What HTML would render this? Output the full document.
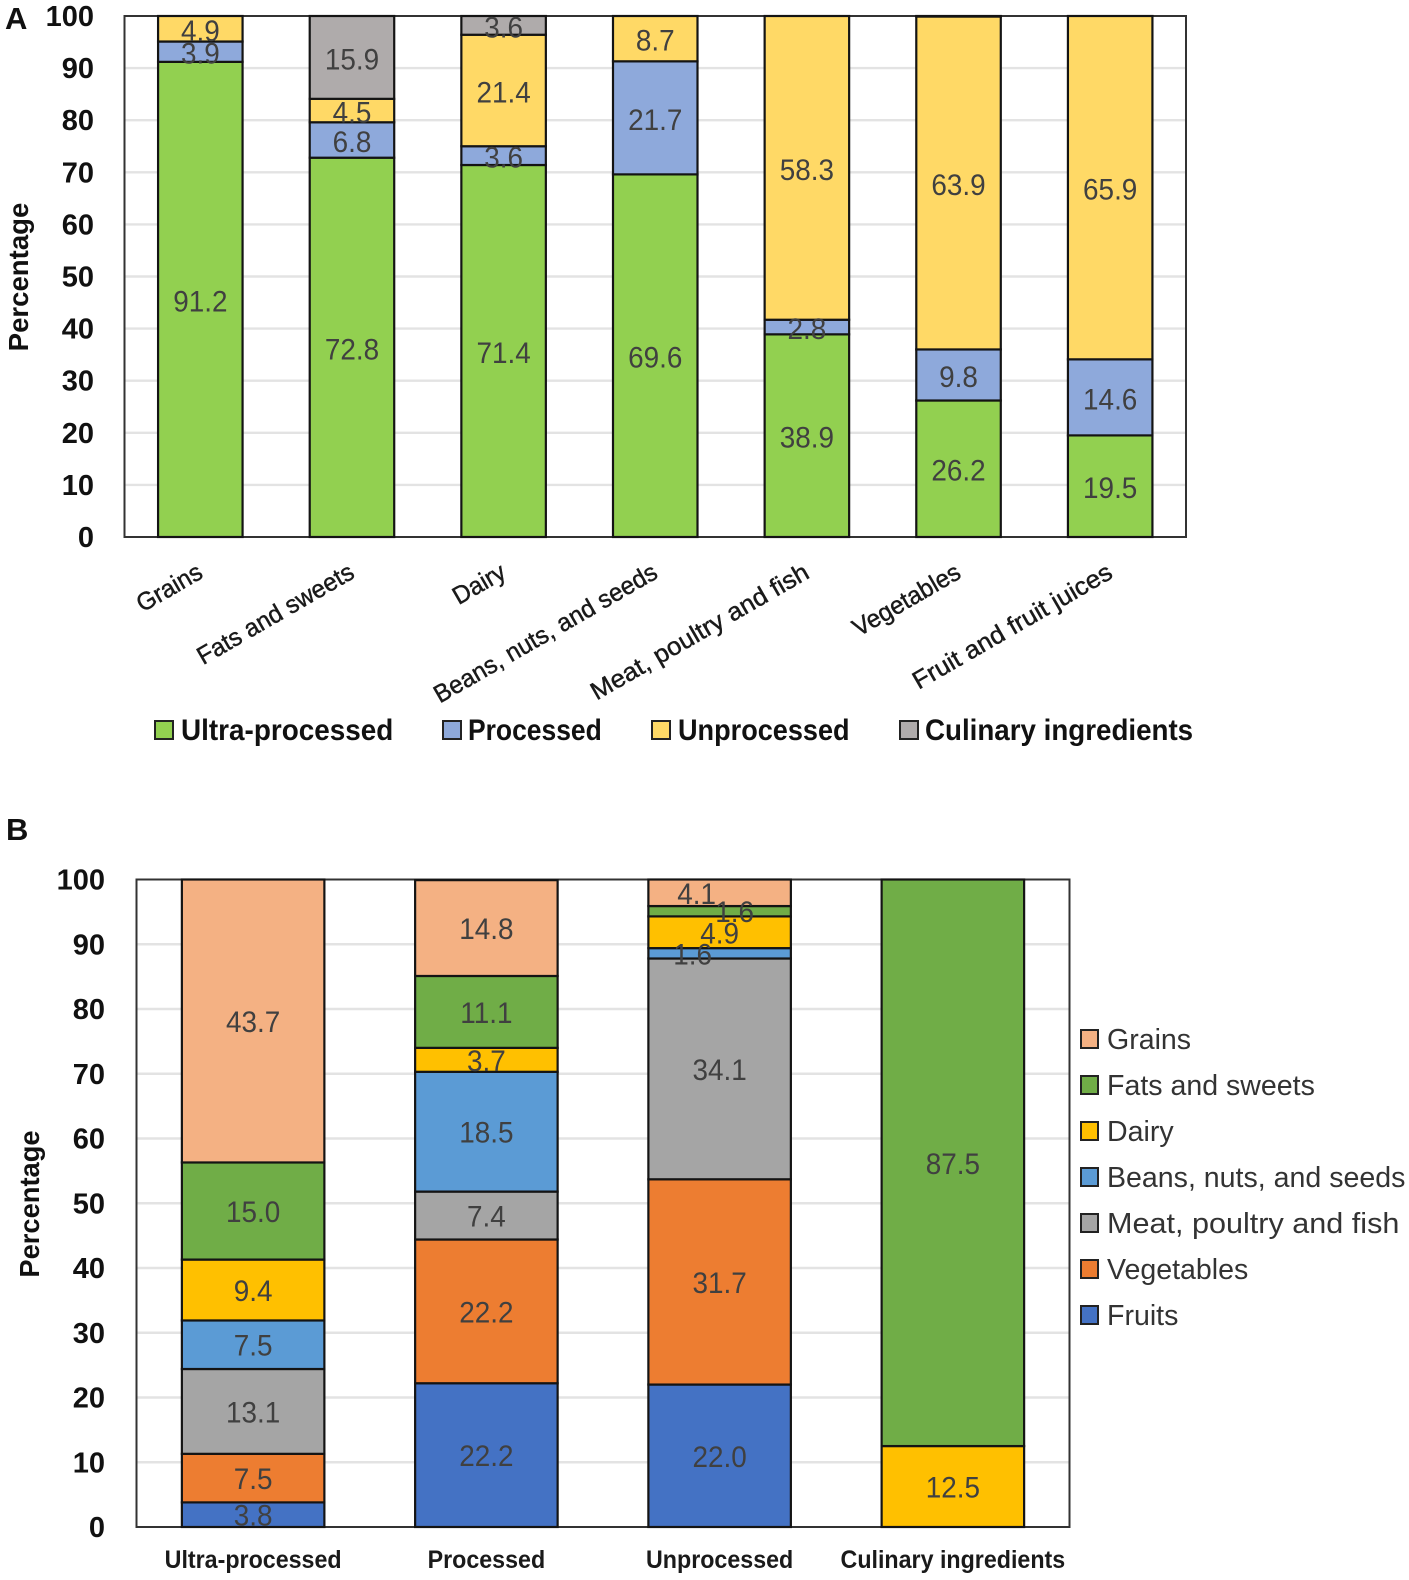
<!DOCTYPE html>
<html lang="en">
<head>
<meta charset="utf-8">
<title>Food groups and processing level</title>
<style>
html,body{margin:0;padding:0;background:#fff;}
svg{display:block;font-family:"Liberation Sans",sans-serif;}
.tick{font-size:29px;font-weight:700;fill:#111;text-anchor:end;}
.dl{font-size:30px;fill:#404040;text-anchor:middle;}
.title{font-size:28px;font-weight:700;fill:#111;}
.cat{font-size:25px;fill:#1a1a1a;stroke:#1a1a1a;stroke-width:.45px;}
.catb{font-size:25px;font-weight:700;fill:#1a1a1a;}
.lega{font-size:30px;font-weight:700;fill:#111;}
.legb{font-size:29px;fill:#333;}
.letter{font-size:31px;font-weight:700;fill:#111;}
</style>
</head>
<body>
<svg id="root" width="1409" height="1580" viewBox="0 0 1409 1580" xmlns="http://www.w3.org/2000/svg">
  <rect width="1409" height="1580" fill="#fff"/>
  <text class="letter" x="5" y="29">A</text>
  <text class="letter" x="6" y="840">B</text>

  <g id="chartA"></g>
  <g id="chartB"></g>

  <text class="title" transform="translate(28,277) rotate(-90) scale(.985,1)" text-anchor="middle">Percentage</text>
  <text class="title" transform="translate(39,1204) rotate(-90) scale(.975,1)" text-anchor="middle">Percentage</text>

  <g>
    <g>
      <rect x="155" y="721" width="18" height="18" fill="#92D050" stroke="#222" stroke-width="2"/>
      <text class="lega" transform="translate(181,740) scale(.93,1)">Ultra-processed</text>
    </g>
    <g>
      <rect x="443" y="721" width="18" height="18" fill="#8EA9DB" stroke="#222" stroke-width="2"/>
      <text class="lega" transform="translate(468,740) scale(.882,1)">Processed</text>
    </g>
    <g>
      <rect x="652" y="721" width="18" height="18" fill="#FFD966" stroke="#222" stroke-width="2"/>
      <text class="lega" transform="translate(678,740) scale(.903,1)">Unprocessed</text>
    </g>
    <g>
      <rect x="900" y="721" width="18" height="18" fill="#AFABAB" stroke="#222" stroke-width="2"/>
      <text class="lega" transform="translate(925,740) scale(.925,1)">Culinary ingredients</text>
    </g>
  </g>
  <g id="legendB"></g>
</svg>

<script>
// ----- Panel A data -----
const categoriesA = ['Grains','Fats and sweets','Dairy','Beans, nuts, and seeds','Meat, poultry and fish','Vegetables','Fruit and fruit juices'];
const ultraProcessedA = [91.2,72.8,71.4,69.6,38.9,26.2,19.5];
const processedA = [3.9,6.8,3.6,21.7,2.8,9.8,14.6];
const unprocessedA = [4.9,4.5,21.4,8.7,58.3,63.9,65.9];
const culinaryA = [0,15.9,3.6,0,0,0.1,0];
const seriesNamesA = ['Ultra-processed','Processed','Unprocessed','Culinary ingredients'];
const coloursA = ['#92D050','#8EA9DB','#FFD966','#AFABAB'];

// ----- Panel B data -----
const categoriesB = ['Ultra-processed','Processed','Unprocessed','Culinary ingredients'];
const fruitsB = [3.8,22.2,22.0,0];
const vegetablesB = [7.5,22.2,31.7,0];
const meatB = [13.1,7.4,34.1,0];
const beansB = [7.5,18.5,1.6,0];
const dairyB = [9.4,3.7,4.9,12.5];
const fatsB = [15.0,11.1,1.6,87.5];
const grainsB = [43.7,14.8,4.1,0];
const seriesNamesB = ['Fruits','Vegetables','Meat, poultry and fish','Beans, nuts, and seeds','Dairy','Fats and sweets','Grains'];
const coloursB = ['#4472C4','#ED7D31','#A5A5A5','#5B9BD5','#FFC000','#70AD47','#F4B183'];

const yTicks = [0,10,20,30,40,50,60,70,80,90,100];

const NS = 'http://www.w3.org/2000/svg';
function mk(parent, tag, attrs, text){
  const el = document.createElementNS(NS, tag);
  for (const k in attrs) el.setAttribute(k, attrs[k]);
  if (text !== undefined) el.textContent = text;
  parent.appendChild(el);
  return el;
}
function slug(s){ return s.toLowerCase().replace(/[^a-z0-9]+/g,'-').replace(/^-|-$/g,''); }

function drawChart(cfg){
  const g = document.getElementById(cfg.id);
  const x0 = cfg.left, x1 = cfg.right, y0 = cfg.bottom, y1 = cfg.top;
  const yScale = v => y0 - (v / 100) * (y0 - y1);
  const band = (x1 - x0) / cfg.categories.length;
  const xCenter = i => x0 + band * (i + 0.5);

  // gridlines + tick labels
  yTicks.forEach(t => {
    if (t !== 0 && t !== 100) {
      const line = mk(g, 'line', {x1:x0, x2:x1, y1:yScale(t), y2:yScale(t), stroke:'#e3e3e3', 'stroke-width':2.4});
      
      
    }
    const lab = mk(g, 'text', {class:'tick', x:cfg.tickX, y:yScale(t) + 10}, String(t));
    
    
  });

  // plot frame
  const frame = mk(g, 'rect', {x:x0, y:y1, width:x1-x0, height:y0-y1, fill:'none', stroke:'#333', 'stroke-width':2});
  
  

  // stacked bars
  const labels = [];
  cfg.categories.forEach((c, i) => {
    let acc = 0;
    cfg.series.forEach((vals, s) => {
      const v = vals[i];
      if (v <= 0) return;
      const yTop = Math.max(yScale(acc + v), y1);
      const yBot = yScale(acc);
      const bar = mk(g, 'rect', {x:xCenter(i) - cfg.barW/2, y:yTop, width:cfg.barW, height:yBot - yTop,
        fill:cfg.colours[s], stroke:'#141414', 'stroke-width':2.2});
      
      
      if (v >= 1) labels.push({v, x:xCenter(i) + cfg.nudge(s, i), y:(yTop + yBot)/2 + cfg.labelDrop});
      acc += v;
    });
  });

  // data labels on top of every bar
  labels.forEach(l => {
    const t = mk(g, 'text', {class:'dl', transform:'translate(' + l.x + ',' + l.y + ') scale(.93,1)'}, l.v.toFixed(1));
    
    
  });

  // category labels
  cfg.categories.forEach((c, i) => {
    const t = cfg.drawCat(g, c, xCenter(i));
    
    
  });
}

drawChart({
  id:'chartA', categories:categoriesA, series:[ultraProcessedA,processedA,unprocessedA,culinaryA], colours:coloursA,
  left:124.5, right:1186, top:16, bottom:537, barW:84.5, tickX:94, labelDrop:12,
  nudge:() => 0,
  drawCat:(g, c, cx) => {
    const widen = (c === 'Meat, poultry and fish' || c === 'Fruit and fruit juices') ? 1.035 : 0.97;
    return mk(g, 'text', {class:'cat', 'text-anchor':'end',
      transform:'translate(' + (cx + 4) + ',577) rotate(-30) scale(' + widen + ',1)'}, c);
  }
});

drawChart({
  id:'chartB', categories:categoriesB, series:[fruitsB,vegetablesB,meatB,beansB,dairyB,fatsB,grainsB], colours:coloursB,
  left:136.5, right:1069.5, top:879.5, bottom:1527, barW:142.5, tickX:105, labelDrop:11,
  // the small Unprocessed labels are pushed sideways in the source figure
  nudge:(s, i) => {
    if (i !== 2) return 0;
    if (s === 6) return -23;
    if (s === 5) return 15;
    if (s === 3) return -27;
    return 0;
  },
  drawCat:(g, c, cx) => mk(g, 'text', {class:'catb', 'text-anchor':'middle',
    transform:'translate(' + cx + ',1568) scale(.93,1)'}, c)
});

// legend B, listed top-down (reverse of stack order)
const legendB = document.getElementById('legendB');
seriesNamesB.slice().reverse().forEach((name, r) => {
  const row = mk(legendB, 'g', {});
  
  
  const cy = 1039 + r * 46;
  const colour = coloursB[seriesNamesB.length - 1 - r];
  const widen = name === 'Meat, poultry and fish' ? 1.055 : 0.985;
  mk(row, 'rect', {x:1081, y:cy - 9, width:17, height:18, fill:colour, stroke:'#222', 'stroke-width':2});
  mk(row, 'text', {class:'legb', transform:'translate(1107,' + (cy + 10) + ') scale(' + widen + ',1)'}, name);
});
</script>
</body>
</html>
